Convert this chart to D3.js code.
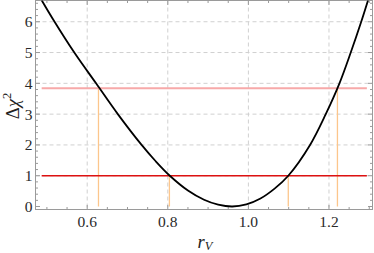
<!DOCTYPE html>
<html>
<head>
<meta charset="utf-8">
<script src="https://cdn.jsdelivr.net/npm/d3@7/dist/d3.min.js"></script>
<style>
  html, body { margin: 0; padding: 0; background: #fff; }
  svg { display: block; }
  text { font-family: "Liberation Serif", "Times New Roman", serif; }
</style>
</head>
<body>
<svg id="chart" width="374" height="253"></svg>
<script>
// ---- data ----
const rV = [0.487, 0.519, 0.568, 0.622, 0.676, 0.735, 0.770, 0.805, 0.850, 0.890, 0.925, 0.960,
            0.995, 1.030, 1.065, 1.099, 1.153, 1.192, 1.226, 1.254, 1.280, 1.297];
const dChi2 = [6.70, 6.00, 5.00, 4.00, 3.00, 2.00, 1.47, 1.00, 0.52, 0.22, 0.06, 0.00,
               0.07, 0.26, 0.58, 1.00, 2.00, 3.00, 4.00, 5.00, 6.00, 6.70];
const levels = [1, 3.84];                 // horizontal reference lines
const levelRange = [0.487, 1.294];        // r_V span of the horizontal lines
const crossings1 = [0.804, 1.099];        // Δχ² = 1 intersections
const crossings2 = [0.628, 1.221];        // Δχ² = 3.84 intersections
const xTicks = [0.6, 0.8, 1.0, 1.2];
const xTickLabels = ["0.6", "0.8", "1.0", "1.2"];
const yTicks = [0, 1, 2, 3, 4, 5, 6];
const yTickLabels = ["0", "1", "2", "3", "4", "5", "6"];

// ---- layout ----
const svg = d3.select("#chart");
const L = 35.5, R = 372.5, T = 0.5, B = 209.5;
const x = d3.scaleLinear().domain([0.4717, 1.308]).range([L, R]);
const y = d3.scaleLinear().domain([-0.097, 6.69]).range([B, T]);

const frameColor = "#9a9a9a";
const gridColor = "#d0d0d0";

svg.append("defs").append("clipPath").attr("id", "clip")
  .append("rect").attr("x", L).attr("y", T).attr("width", R - L).attr("height", B - T);

// grid
const grid = svg.append("g");
grid.selectAll(".gx").data(xTicks).join("line")
  .attr("x1", d => x(d)).attr("x2", d => x(d)).attr("y1", T).attr("y2", B)
  .attr("stroke", gridColor).attr("stroke-width", 1).attr("stroke-dasharray", "4,3");
grid.selectAll(".gy").data(yTicks.filter(d => d > 0)).join("line")
  .attr("x1", L).attr("x2", R).attr("y1", d => y(d)).attr("y2", d => y(d))
  .attr("stroke", gridColor).attr("stroke-width", 1).attr("stroke-dasharray", "4,3");

// axes (inward ticks, Mathematica-style frame)
const minorX = d3.range(0.5, 1.31, 0.05).filter(v => !xTicks.some(t => Math.abs(t - v) < 1e-6));
const minorY = d3.range(0, 6.7, 0.2).filter(v => Math.abs(v - Math.round(v)) > 1e-6);

function drawTicks(sel, vals, len, orient) {
  sel.selectAll(null).data(vals).join("line")
    .attr("stroke", frameColor).attr("stroke-width", 1)
    .each(function(d) {
      const s = d3.select(this);
      if (orient === "bottom") s.attr("x1", x(d)).attr("x2", x(d)).attr("y1", B).attr("y2", B - len);
      if (orient === "top") s.attr("x1", x(d)).attr("x2", x(d)).attr("y1", T).attr("y2", T + len);
      if (orient === "left") s.attr("x1", L).attr("x2", L + len).attr("y1", y(d)).attr("y2", y(d));
      if (orient === "right") s.attr("x1", R).attr("x2", R - len).attr("y1", y(d)).attr("y2", y(d));
    });
}
const tk = svg.append("g");
drawTicks(tk, xTicks, 4.5, "bottom"); drawTicks(tk, minorX, 2.5, "bottom");
drawTicks(tk, xTicks, 4.5, "top"); drawTicks(tk, minorX, 2.5, "top");
drawTicks(tk, yTicks, 4.5, "left"); drawTicks(tk, minorY, 2.5, "left");
drawTicks(tk, yTicks, 4.5, "right"); drawTicks(tk, minorY, 2.5, "right");

svg.append("rect").attr("x", L).attr("y", T).attr("width", R - L).attr("height", B - T)
  .attr("fill", "none").attr("stroke", frameColor).attr("stroke-width", 1);

// tick labels
svg.append("g").selectAll("text").data(xTicks).join("text")
  .attr("x", d => x(d)).attr("y", 226.5).attr("text-anchor", "middle")
  .attr("font-size", 15.5).attr("fill", "#2a2a2a")
  .text((d, i) => xTickLabels[i]);
svg.append("g").selectAll("text").data(yTicks).join("text")
  .attr("x", 32.5).attr("y", d => y(d)).attr("dy", "0.35em").attr("text-anchor", "end")
  .attr("font-size", 15.5).attr("fill", "#2a2a2a")
  .text((d, i) => yTickLabels[i]);

// axis titles
const yt = svg.append("text").attr("transform", "translate(18.5,106) rotate(-90)")
  .attr("text-anchor", "middle").attr("font-size", 18.5).attr("fill", "#222");
yt.append("tspan").text("Δ");
yt.append("tspan").attr("font-style", "italic").text("χ");
yt.append("tspan").attr("font-size", 12.5).attr("dy", -8).text("2");

const xt = svg.append("text").attr("x", 205).attr("y", 247.5)
  .attr("text-anchor", "middle").attr("font-size", 18.5).attr("fill", "#222");
xt.append("tspan").attr("font-style", "italic").text("r");
xt.append("tspan").attr("font-style", "italic").attr("font-size", 12.5).attr("dy", 2.5).text("V");

// marks
const plot = svg.append("g").attr("clip-path", "url(#clip)");
const vlines = [
  ...crossings2.map(r => ({ r, lev: levels[1] })),
  ...crossings1.map(r => ({ r, lev: levels[0] }))
];
plot.selectAll(".v").data(vlines).join("line")
  .attr("x1", d => x(d.r)).attr("x2", d => x(d.r)).attr("y1", y(0)).attr("y2", d => y(d.lev))
  .attr("stroke", "#fcc68c").attr("stroke-width", 1.3);

plot.append("line")
  .attr("x1", x(levelRange[0])).attr("x2", x(levelRange[1]))
  .attr("y1", y(levels[1])).attr("y2", y(levels[1]))
  .attr("stroke", "#f7a9a9").attr("stroke-width", 1.8);
plot.append("line")
  .attr("x1", x(levelRange[0])).attr("x2", x(levelRange[1]))
  .attr("y1", y(levels[0])).attr("y2", y(levels[0]))
  .attr("stroke", "#dd1111").attr("stroke-width", 1.6);

const pts = rV.map((r, i) => [r, dChi2[i]]);
plot.append("path").datum(pts)
  .attr("d", d3.line().x(d => x(d[0])).y(d => y(d[1])).curve(d3.curveCatmullRom.alpha(0.5)))
  .attr("fill", "none").attr("stroke", "#000").attr("stroke-width", 1.8);
</script>
</body>
</html>
